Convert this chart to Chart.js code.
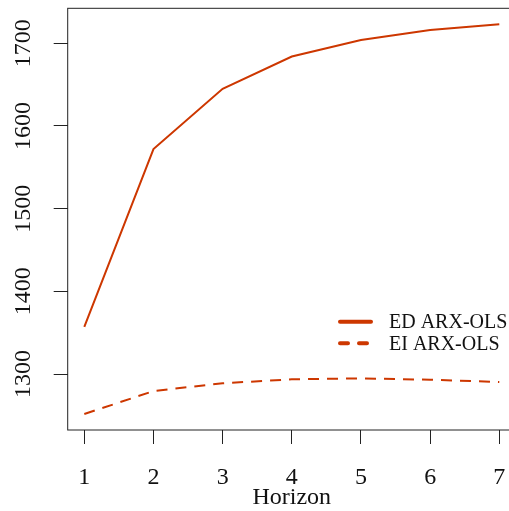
<!DOCTYPE html>
<html>
<head>
<meta charset="utf-8">
<script src="https://cdn.jsdelivr.net/npm/chart.js@4/dist/chart.umd.min.js"></script>
<style>
html,body{margin:0;padding:0;background:#fff;overflow:hidden;}
#wrap{width:520px;height:511px;}
canvas{display:block;}
</style>
</head>
<body>
<div id="wrap"><canvas id="c" width="520" height="511"></canvas></div>
<script>
const horizons = [1, 2, 3, 4, 5, 6, 7];
const edArxOls = [1357, 1572, 1645, 1684, 1704, 1716, 1723];
const eiArxOls = [1251.6, 1279.4, 1288.8, 1293.6, 1294.8, 1293.1, 1290.3];
const seriesLabels = ['ED ARX-OLS', 'EI ARX-OLS'];
const xTicks = [1, 2, 3, 4, 5, 6, 7];
const yTicks = [1300, 1400, 1500, 1600, 1700];
const xTitle = 'Horizon';

const COLOR = 'rgb(205,55,0)';
const FONT = '"Liberation Serif", "DejaVu Serif", serif';

const framePlugin = {
  id: 'frame',
  afterDraw(chart) {
    const ctx = chart.ctx;
    const a = chart.chartArea;
    const ys = chart.scales.y;
    ctx.save();
    ctx.strokeStyle = '#222';
    ctx.lineWidth = 1;
    ctx.strokeRect(a.left, a.top, a.right - a.left, a.bottom - a.top);
    ctx.fillStyle = '#111';
    ctx.font = '24px ' + FONT;
    ctx.textAlign = 'center';
    ctx.textBaseline = 'middle';
    yTicks.forEach(v => {
      const py = ys.getPixelForValue(v);
      ctx.save();
      ctx.translate(24, py);
      ctx.rotate(-Math.PI / 2);
      ctx.fillText(String(v), 0, 0);
      ctx.restore();
    });
    const ds = chart.data.datasets;
    const rows = [321.7, 343.3];
    ctx.font = '20px ' + FONT;
    ctx.textAlign = 'left';
    ctx.textBaseline = 'middle';
    ds.forEach((d, i) => {
      const y = rows[i];
      ctx.strokeStyle = d.borderColor;
      ctx.lineWidth = 4;
      ctx.lineCap = 'round';
      ctx.setLineDash(i === 0 ? [] : [8, 11]);
      ctx.beginPath();
      ctx.moveTo(340, y);
      ctx.lineTo(371, y);
      ctx.stroke();
      ctx.setLineDash([]);
      ctx.fillStyle = '#111';
      ctx.fillText(d.label, 389, y + 1);
    });
    ctx.restore();
  }
};

new Chart(document.getElementById('c'), {
  type: 'line',
  data: {
    datasets: [
      {
        label: seriesLabels[0],
        data: horizons.map((h, i) => ({x: h, y: edArxOls[i]})),
        borderColor: COLOR,
        borderWidth: 2,
        pointRadius: 0,
        tension: 0,
        fill: false
      },
      {
        label: seriesLabels[1],
        data: horizons.map((h, i) => ({x: h, y: eiArxOls[i]})),
        borderColor: COLOR,
        borderWidth: 2,
        borderDash: [11, 8],
        pointRadius: 0,
        tension: 0,
        fill: false
      }
    ]
  },
  options: {
    responsive: false,
    animation: false,
    devicePixelRatio: 1,
    layout: {padding: {top: 8.3, right: 4.1, left: 0, bottom: 0}},
    plugins: {legend: {display: false}, tooltip: {enabled: false}},
    scales: {
      x: {
        type: 'linear',
        min: 0.76,
        max: 7.24,
        afterBuildTicks(s) { s.ticks = xTicks.map(v => ({value: v})); },
        afterFit(s) { s.height = 81; s.paddingLeft = 0; s.paddingRight = 0; s.paddingTop = 0; s.paddingBottom = 0; },
        grid: {drawOnChartArea: false, drawTicks: true, tickLength: 14, color: '#222', lineWidth: 1},
        border: {display: false},
        ticks: {
          color: '#111',
          font: {family: FONT, size: 24},
          padding: 19,
          maxRotation: 0,
          autoSkip: false,
          callback: v => String(v)
        },
        title: {
          display: true,
          text: xTitle,
          color: '#111',
          font: {family: FONT, size: 24, lineHeight: 1},
          padding: {top: 0, bottom: 1}
        }
      },
      y: {
        type: 'linear',
        min: 1232.3,
        max: 1742.3,
        afterBuildTicks(s) { s.ticks = yTicks.map(v => ({value: v})); },
        afterFit(s) { s.width = 67.7; s.paddingLeft = 0; s.paddingRight = 0; s.paddingTop = 0; s.paddingBottom = 0; },
        grid: {drawOnChartArea: false, drawTicks: true, tickLength: 14, color: '#222', lineWidth: 1},
        border: {display: false},
        ticks: {display: false}
      }
    }
  },
  plugins: [framePlugin]
});
</script>
</body>
</html>
